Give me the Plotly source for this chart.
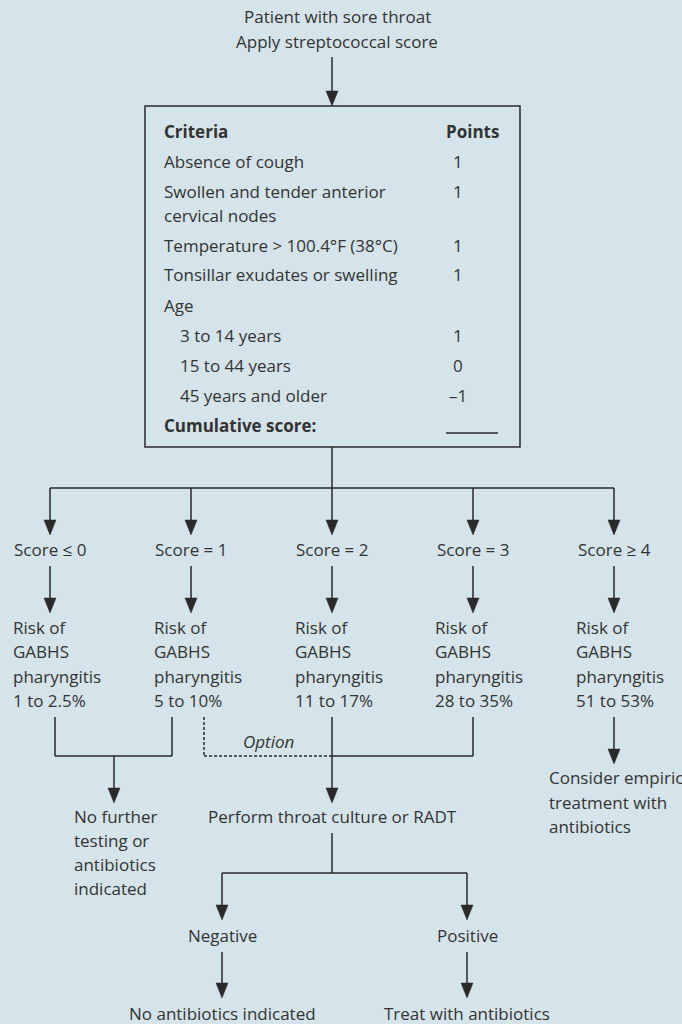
import plotly.graph_objects as go

# ---------------- data (texts) ----------------
top_lines = ["Patient with sore throat", "Apply streptococcal score"]
criteria_header = ["Criteria", "Points"]
criteria = ["Absence of cough", "Swollen and tender anterior", "cervical nodes",
            "Temperature > 100.4°F (38°C)", "Tonsillar exudates or swelling", "Age",
            "3 to 14 years", "15 to 44 years", "45 years and older"]
points = ["1", "1", "", "1", "1", "", "1", "0", "–1"]
indented = [False, False, False, False, False, False, True, True, True]
cumulative_label = "Cumulative score:"
score_labels = ["Score ≤ 0", "Score = 1", "Score = 2", "Score = 3", "Score ≥ 4"]
risk_lines = ["Risk of", "GABHS", "pharyngitis"]
risk_ranges = ["1 to 2.5%", "5 to 10%", "11 to 17%", "28 to 35%", "51 to 53%"]
no_further = ["No further", "testing or", "antibiotics", "indicated"]
option_label = "Option"
perform_label = "Perform throat culture or RADT"
consider = ["Consider empiric", "treatment with", "antibiotics"]
test_results = ["Negative", "Positive"]
outcomes = ["No antibiotics indicated", "Treat with antibiotics"]

# ---------------- style ----------------
BG = "#d5e3ea"
LINE = "#2a2a2a"
TXT = "#333333"
FONT = "Open Sans"
FS = 17
LW = 1.5

shapes = []
annotations = []


def line(x0, y0, x1, y1, dash=None):
    shapes.append(dict(type="line", x0=x0, y0=y0, x1=x1, y1=y1, xref="x", yref="y",
                       line=dict(color=LINE, width=LW, dash=dash) if dash else dict(color=LINE, width=LW)))


def arrow(x, y0, y1, w=12, h=15):
    line(x, y0, x, y1 - h + 2)
    shapes.append(dict(type="path", xref="x", yref="y",
                       path=f"M {x - w/2},{y1 - h} L {x + w/2},{y1 - h} L {x},{y1} Z",
                       fillcolor=LINE, line=dict(color=LINE, width=0.5)))


def text(x, y, s, anchor="center", bold=False, italic=False, size=FS):
    if bold:
        s = f"<b>{s}</b>"
    if italic:
        s = f"<i>{s}</i>"
    annotations.append(dict(x=x, y=y, xref="x", yref="y", text=s, showarrow=False,
                            xanchor=anchor, yanchor="middle",
                            font=dict(family=FONT, size=size, color=TXT)))


# top
text(337, 16, top_lines[0])
text(337, 41, top_lines[1])
arrow(332, 57, 106)

# box
shapes.append(dict(type="rect", x0=145, y0=106, x1=520, y1=447, xref="x", yref="y",
                   line=dict(color=LINE, width=LW), fillcolor="rgba(0,0,0,0)"))
text(162, 131, criteria_header[0], anchor="left", bold=True)
text(501, 131, criteria_header[1], anchor="right", bold=True)
row_y = [161, 191, 215, 245, 274, 305, 335, 365, 395]
for lab, pt, ind, y in zip(criteria, points, indented, row_y):
    text(178 if ind else 162, y, lab, anchor="left")
    if pt:
        text(458, y, pt)
text(162, 425, cumulative_label, anchor="left", bold=True)
line(446, 433, 498, 433)

# branch to scores
col_x = [50, 191, 332, 473, 614]
col_left = [11, 152, 293, 433, 574]
line(332, 447, 332, 488)
line(col_x[0], 488, col_x[-1], 488)
for cx, lab in zip(col_x, score_labels):
    arrow(cx, 488, 535)
    text(cx, 549, lab)
    arrow(cx, 566, 613)
risk_y = [627, 651, 676, 700]
for lx, rr in zip(col_left, risk_ranges):
    for s, y in zip(risk_lines + [rr], risk_y):
        text(lx, y, s, anchor="left")

# left bracket
line(55, 717, 55, 756)
line(172, 717, 172, 756)
line(55, 756, 172, 756)
arrow(114, 756, 803)
for s, y in zip(no_further, [816, 840, 864, 888]):
    text(72, y, s, anchor="left")

# dashed option + middle bracket
line(204, 717, 204, 756, dash="3px,2px")
line(204, 756, 332, 756, dash="3px,2px")
line(332, 756, 473, 756)
line(473, 717, 473, 756)
arrow(332, 717, 803)
text(268, 741, option_label, italic=True)
text(332, 816, perform_label)

# right
arrow(614, 717, 764)
for s, y in zip(consider, [777, 802, 826]):
    text(547, y, s, anchor="left")

# test result split
line(332, 833, 332, 873)
line(222, 873, 467, 873)
for cx, lab, out in zip([222, 467], test_results, outcomes):
    arrow(cx, 873, 920)
    text(cx, 935, lab)
    arrow(cx, 952, 998)
    text(cx, 1013, out)

fig = go.Figure()
fig.update_layout(
    width=682, height=1024,
    margin=dict(l=0, r=0, t=0, b=0),
    paper_bgcolor=BG, plot_bgcolor=BG,
    xaxis=dict(range=[0, 682], visible=False, fixedrange=True),
    yaxis=dict(range=[1024, 0], visible=False, fixedrange=True),
    shapes=shapes, annotations=annotations, showlegend=False,
)
fig.write_html("out.html", config={"displayModeBar": False},
               post_script="document.body.style.margin='0';document.body.style.overflow='hidden';")
